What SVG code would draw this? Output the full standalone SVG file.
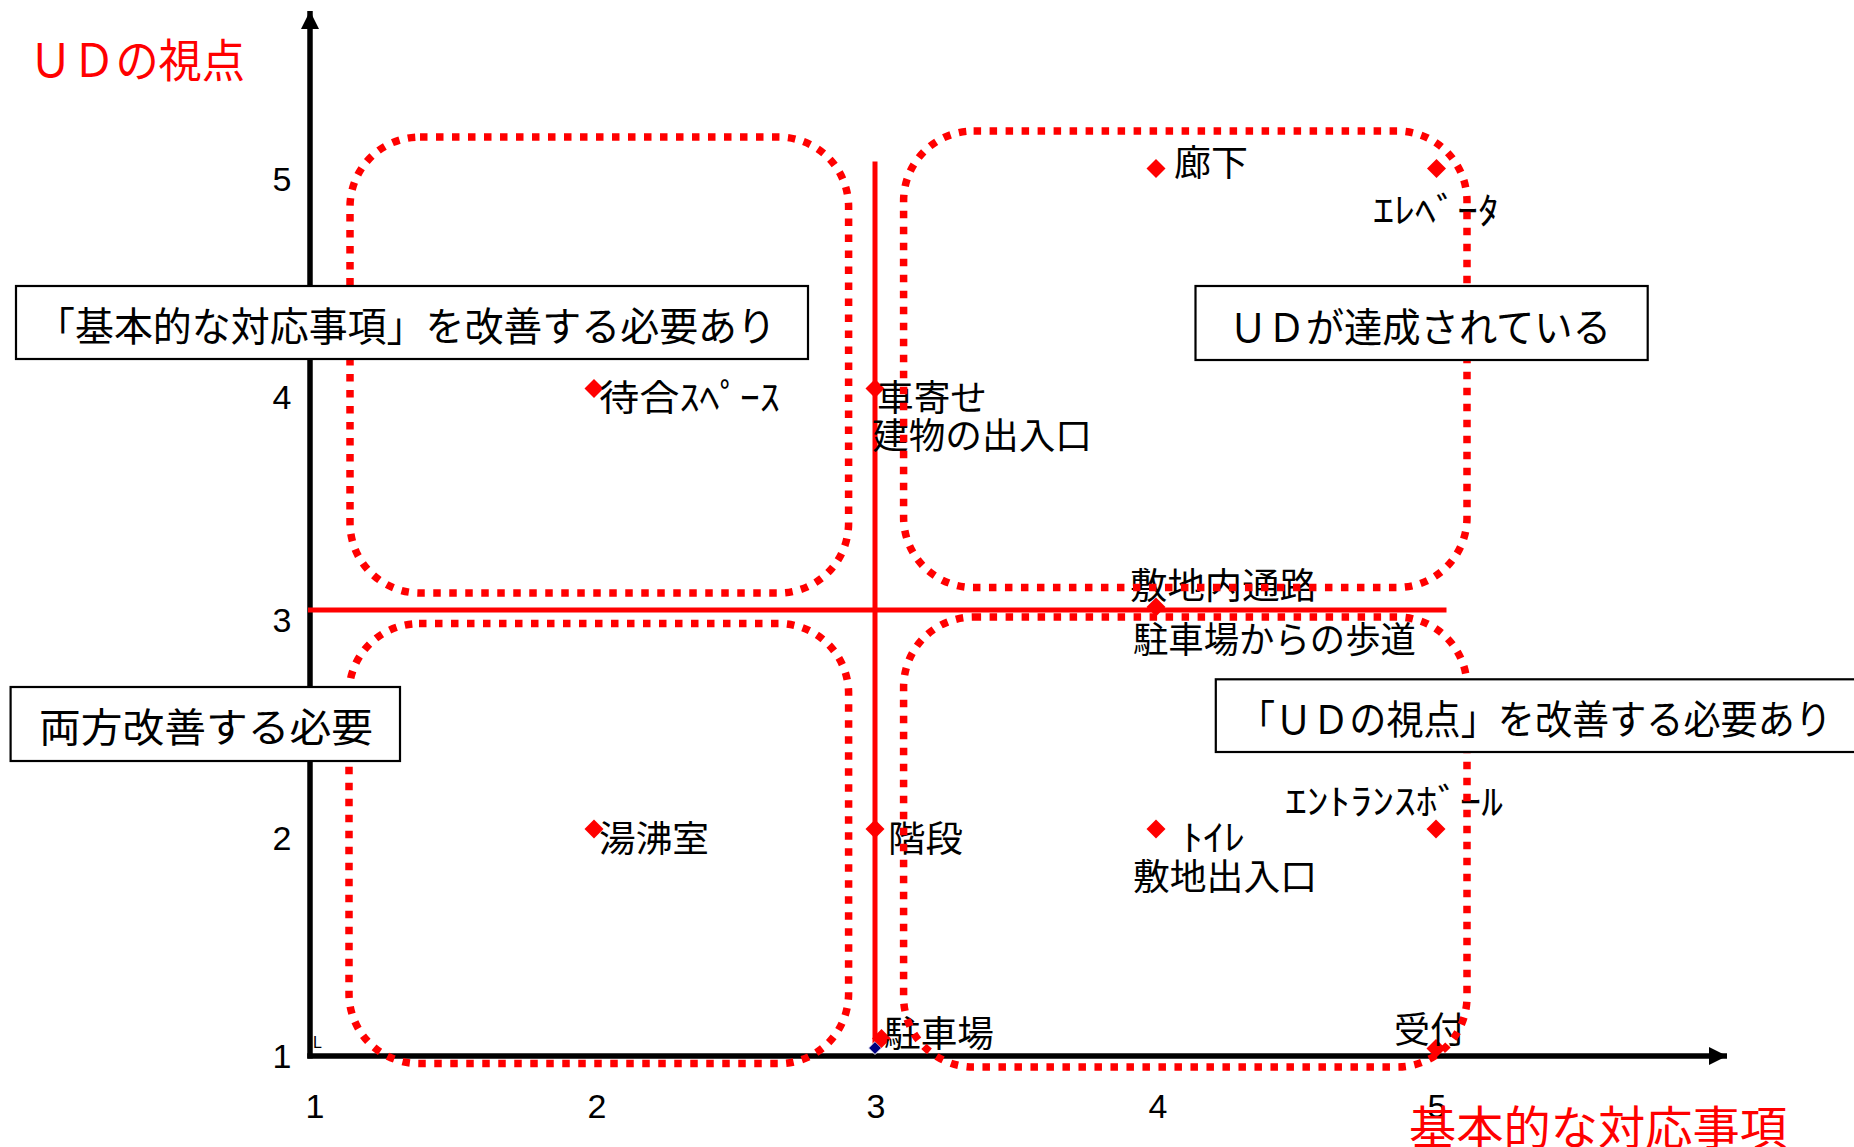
<svg xmlns="http://www.w3.org/2000/svg" xmlns:xlink="http://www.w3.org/1999/xlink" width="1854" height="1147" viewBox="0 0 1854 1147">
<style>
.jp{font-family:"Noto Sans CJK JP","Noto Sans CJK SC",sans-serif;fill:#000}
.lab{font-size:36px}
.box{font-size:40px}
.red{fill:#FF0000;font-size:46px}
.tick{font-family:"Liberation Sans",Arial,sans-serif;font-size:34px;fill:#000;text-anchor:middle}
.axis{stroke:#000;stroke-width:5.5;fill:none}
.qline{stroke:#FF0000;stroke-width:5;fill:none}
.region{fill:none;stroke:#FF0000;stroke-width:7.5;stroke-dasharray:7.5 8.5}
.frame{fill:#fff;stroke:#000;stroke-width:2.2}
.dia{fill:#FF0000}
</style>
<defs>
<path id="dia" d="M0,-9.5 L9.5,0 L0,9.5 L-9.5,0 Z"/>
<marker id="arr" markerUnits="userSpaceOnUse" markerWidth="20" markerHeight="20" refX="18" refY="9" orient="auto">
<path d="M0,0 L18,9 L0,18 Z" fill="#000"/>
</marker>
</defs>
<rect width="1854" height="1147" fill="#fff"/>

<g id="connectors">
<line class="axis" x1="310" y1="1058.5" x2="310" y2="11" marker-end="url(#arr)"/>
<line class="axis" x1="307.3" y1="1056" x2="1727" y2="1056" marker-end="url(#arr)"/>
<line class="qline" x1="308" y1="610" x2="1446.5" y2="610"/>
<line class="qline" x1="875" y1="161.5" x2="875" y2="1048"/>
</g>

<g id="axis-labels">
<text class="tick" x="282" y="191.2">5</text>
<text class="tick" x="282" y="409.2">4</text>
<text class="tick" x="282" y="632.2">3</text>
<text class="tick" x="282" y="850.2">2</text>
<text class="tick" x="282" y="1068.2">1</text>
<text class="tick" x="315" y="1118.2">1</text>
<text class="tick" x="597" y="1118.2">2</text>
<text class="tick" x="876" y="1118.2">3</text>
<text class="tick" x="1158" y="1118.2">4</text>
<text class="tick" x="1437" y="1118.2">5</text>
<text x="313" y="1048" style="font-family:'Liberation Sans',Arial,sans-serif;font-size:16px;fill:#000">L</text>
<text class="jp red" x="29" y="76.5" textLength="216" lengthAdjust="spacingAndGlyphs">ＵＤの視点</text>
<text class="jp red" x="1409" y="1143.5" textLength="378" lengthAdjust="spacingAndGlyphs">基本的な対応事項</text>
</g>

<g id="points">
<g id="p-machiai"><use xlink:href="#dia" href="#dia" class="dia" x="594" y="388.5"/><text class="jp lab" x="599" y="410.7" textLength="181" lengthAdjust="spacingAndGlyphs">待合ｽﾍﾟｰｽ</text></g>
<g id="p-kuruma"><use xlink:href="#dia" href="#dia" class="dia" x="875" y="388.5"/><text class="jp lab" x="877" y="410.7" textLength="110" lengthAdjust="spacingAndGlyphs">車寄せ</text><text class="jp lab" x="872" y="449.2" textLength="220" lengthAdjust="spacingAndGlyphs">建物の出入口</text></g>
<g id="p-rouka"><use xlink:href="#dia" href="#dia" class="dia" x="1156" y="168.5"/><text class="jp lab" x="1174" y="176.2" textLength="74" lengthAdjust="spacingAndGlyphs">廊下</text></g>
<g id="p-elevator"><use xlink:href="#dia" href="#dia" class="dia" x="1436.5" y="168.5"/><text class="jp lab" x="1373" y="224.2" textLength="126" lengthAdjust="spacingAndGlyphs">ｴﾚﾍﾞｰﾀ</text></g>
<g id="p-shikichi"><use xlink:href="#dia" href="#dia" class="dia" x="1156" y="607"/><text class="jp lab" x="1130" y="598.7" textLength="187" lengthAdjust="spacingAndGlyphs">敷地内通路</text><text class="jp lab" x="1133" y="653.2" textLength="283" lengthAdjust="spacingAndGlyphs">駐車場からの歩道</text></g>
<g id="p-yuwakashi"><use xlink:href="#dia" href="#dia" class="dia" x="594" y="829"/><text class="jp lab" x="599" y="851.7" textLength="110" lengthAdjust="spacingAndGlyphs">湯沸室</text></g>
<g id="p-kaidan"><use xlink:href="#dia" href="#dia" class="dia" x="875" y="829"/><text class="jp lab" x="888" y="851.7" textLength="75" lengthAdjust="spacingAndGlyphs">階段</text></g>
<g id="p-toilet"><use xlink:href="#dia" href="#dia" class="dia" x="1156" y="829"/><text class="jp lab" x="1182" y="850.7" textLength="63" lengthAdjust="spacingAndGlyphs">ﾄｲﾚ</text><text class="jp lab" x="1133" y="889.7" textLength="184" lengthAdjust="spacingAndGlyphs">敷地出入口</text></g>
<g id="p-entrance"><use xlink:href="#dia" href="#dia" class="dia" x="1436" y="829"/><text class="jp lab" x="1285" y="815.2" textLength="218" lengthAdjust="spacingAndGlyphs">ｴﾝﾄﾗﾝｽﾎﾞｰﾙ</text></g>
<g id="p-chushajo"><path d="M875,1041.5 L881.5,1048 L875,1054.5 L868.5,1048 Z" fill="#000080" stroke="#fff" stroke-width="1"/><use xlink:href="#dia" href="#dia" class="dia" x="881.5" y="1038.5"/><text class="jp lab" x="884" y="1047.2" textLength="110" lengthAdjust="spacingAndGlyphs">駐車場</text></g>
<g id="p-uketsuke"><use xlink:href="#dia" href="#dia" class="dia" x="1436" y="1048.5"/><text class="jp lab" x="1394" y="1042.7" textLength="72" lengthAdjust="spacingAndGlyphs">受付</text></g>
</g>

<g id="regions">
<rect id="r-tl" class="region" x="350" y="137" width="498.6" height="456" rx="70" ry="70"/>
<rect id="r-tr" class="region" x="903.6" y="131" width="563.4" height="456.5" rx="70" ry="70"/>
<rect id="r-bl" class="region" x="349" y="623.6" width="499.6" height="440" rx="70" ry="70"/>
<rect id="r-br" class="region" x="903.6" y="617" width="563.4" height="450" rx="70" ry="70"/>
</g>

<g id="box-kihon">
<rect class="frame" x="16" y="286" width="792" height="73"/>
<text class="jp box" x="36" y="341" textLength="740" lengthAdjust="spacingAndGlyphs">「基本的な対応事項」を改善する必要あり</text>
</g>
<g id="box-tassei">
<rect class="frame" x="1195.5" y="286" width="452.2" height="74"/>
<text class="jp box" x="1229" y="342" textLength="382" lengthAdjust="spacingAndGlyphs">ＵＤが達成されている</text>
</g>
<g id="box-ryouhou">
<rect class="frame" x="10.6" y="687" width="389.4" height="74"/>
<text class="jp box" x="39" y="741.7" textLength="334" lengthAdjust="spacingAndGlyphs">両方改善する必要</text>
</g>
<g id="box-ud">
<rect class="frame" x="1215.8" y="679.3" width="660" height="72.7"/>
<text class="jp box" x="1238" y="733.7" textLength="594" lengthAdjust="spacingAndGlyphs">「ＵＤの視点」を改善する必要あり</text>
</g>
</svg>
